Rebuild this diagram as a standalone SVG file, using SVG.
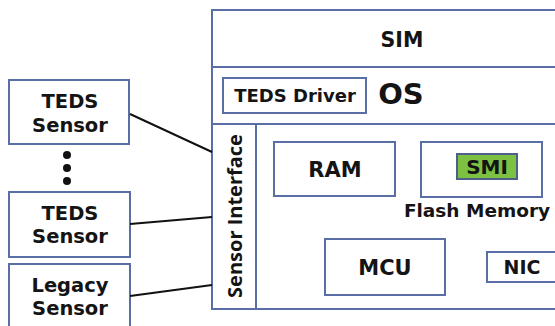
<svg xmlns="http://www.w3.org/2000/svg" width="555" height="326" viewBox="0 0 555 326">
<style>
.box{fill:#fff;stroke:#5a6ea6;stroke-width:2}
.t{font-family:"DejaVu Sans","Open Sans",sans-serif;font-weight:bold;fill:#141414;text-anchor:middle}
.s{font-size:19.5px}
.v{font-family:"Open Sans","Noto Sans",sans-serif;font-size:20px}
.ln{stroke:#111;stroke-width:2;fill:none}
</style>
<rect width="555" height="326" fill="#fff"/>
<g id="sim">
<rect class="box" x="212" y="10" width="360" height="299"/>
<line class="box" x1="212" y1="67" x2="572" y2="67"/>
<line class="box" x1="212" y1="124" x2="572" y2="124"/>
<text class="t" x="402" y="47" font-size="20.5">SIM</text>
</g>
<g id="teds-driver">
<rect class="box" x="223" y="78" width="143" height="35"/>
<text class="t" x="295" y="102" font-size="18">TEDS Driver</text>
</g>
<g id="os">
<text class="t" x="401" y="104" font-size="29">OS</text>
</g>
<g id="sensor-interface">
<rect class="box" x="212" y="124" width="44" height="185"/>
<text class="t v" transform="translate(242,216) rotate(-90)">Sensor Interface</text>
</g>
<g id="ram">
<rect class="box" x="274" y="142" width="121" height="54"/>
<text class="t" x="335" y="177" font-size="21">RAM</text>
</g>
<g id="flash">
<rect class="box" x="421" y="142" width="121" height="55"/>
<text class="t" x="477" y="217" font-size="18.5">Flash Memory</text>
</g>
<g id="smi">
<rect x="457" y="154" width="60" height="25" fill="#7cc142" stroke="#4d5f8a" stroke-width="2"/>
<text class="t" x="487" y="174" font-size="20">SMI</text>
</g>
<g id="mcu">
<rect class="box" x="325" y="239" width="120" height="56"/>
<text class="t" x="385" y="275" font-size="21">MCU</text>
</g>
<g id="nic">
<rect class="box" x="487" y="252" width="80" height="30"/>
<text class="t" x="522" y="274" font-size="19">NIC</text>
</g>
<g id="teds-sensor-1">
<rect class="box" x="9" y="80" width="120" height="64"/>
<text class="t s" x="70" y="108">TEDS</text>
<text class="t s" x="70" y="132">Sensor</text>
</g>
<g id="dots">
<circle cx="67" cy="155" r="4" fill="#111"/>
<circle cx="67" cy="168" r="4" fill="#111"/>
<circle cx="67" cy="181" r="4" fill="#111"/>
</g>
<g id="teds-sensor-2">
<rect class="box" x="9" y="192" width="121" height="65"/>
<text class="t s" x="70" y="220">TEDS</text>
<text class="t s" x="70" y="243">Sensor</text>
</g>
<g id="legacy-sensor">
<rect class="box" x="9" y="264" width="121" height="70"/>
<text class="t s" x="70" y="292">Legacy</text>
<text class="t s" x="70" y="315">Sensor</text>
</g>
<g id="connectors">
<line class="ln" x1="130" y1="114" x2="212" y2="152"/>
<line class="ln" x1="130" y1="224" x2="212" y2="217"/>
<line class="ln" x1="130" y1="296" x2="212" y2="285"/>
</g>
</svg>
